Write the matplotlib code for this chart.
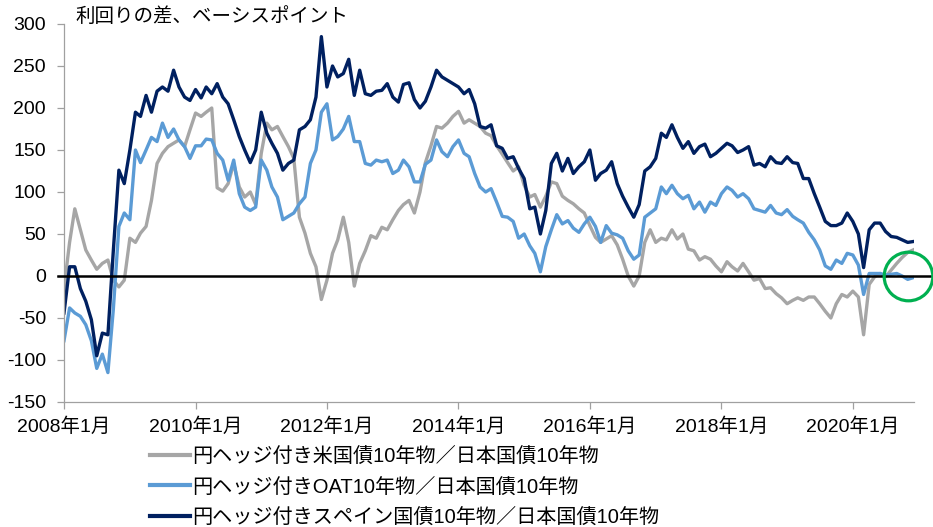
import numpy as np
import pandas as pd
import matplotlib
matplotlib.use("Agg")
import matplotlib.pyplot as plt
import matplotlib.dates as mdates

plt.rcParams['font.family'] = ['Liberation Sans', 'Noto Sans CJK JP', 'DejaVu Sans']

start_month = '2008-01-01'
n_months = 156

us = [
    -15, 40, 80, 55, 31, 19, 8, 15, 19, -5, -13, -5,
    45, 40, 51, 59, 90, 134, 146, 154, 158, 162, 154, 174,
    194, 190, 195, 200, 105, 101, 110, 134, 106, 94, 100, 85,
    146, 182, 174, 178, 166, 154, 140, 70, 51, 27, 11, -28,
    -5, 27, 43, 70, 40, -12, 15, 30, 48, 45, 58, 55,
    67, 78, 85, 90, 75, 100, 135, 155, 178, 176, 182, 190,
    196, 182, 186, 182, 178, 170, 167, 155, 145, 135, 125, 130,
    108, 94, 97, 82, 95, 112, 110, 95, 90, 86, 80, 75,
    60, 46, 40, 44, 48, 37, 20, 0, -12, 0, 40, 55,
    40, 45, 43, 55, 44, 50, 32, 30, 19, 23, 20, 12,
    5, 17, 11, 6, 15, 5, -5, -3, -15, -14, -21, -26,
    -33, -29, -26, -29, -25, -25, -33, -42, -50, -33, -22, -25,
    -18, -25, -70, -10, -1, 3, -1, 7, 15, 22, 28, 31,
]

oat = [
    -77, -38, -44, -48, -58, -77, -110, -93, -115, -40, 59, 75,
    67, 150, 135, 150, 165, 160, 182, 165, 175, 162, 154, 140,
    155, 155, 163, 162, 146, 138, 114, 138, 98, 82, 78, 82,
    138, 126, 106, 94, 67, 71, 75, 86, 94, 134, 150, 195,
    205, 162, 166, 175, 190, 160, 160, 134, 132, 138, 136, 138,
    122, 126, 138, 130, 112, 112, 133, 138, 162, 148, 142, 154,
    162, 146, 142, 122, 106, 100, 104, 88, 71, 70, 65, 45,
    50, 36, 27, 5, 35, 55, 73, 62, 66, 57, 52, 62,
    70, 59, 40, 60, 51, 49, 45, 30, 20, 25, 70, 75,
    80, 106, 98, 108, 98, 92, 96, 80, 88, 76, 88, 84,
    98, 106, 102, 94, 98, 92, 80, 78, 76, 84, 75, 73,
    79, 71, 67, 63, 52, 43, 31, 12, 8, 19, 15, 27,
    25, 13, -22, 3, 3, 3, 1, 2, 3, 0, -4, -2,
]

spain = [
    -44, 11, 11, -15, -30, -52, -95, -68, -70, 30, 126, 110,
    150, 195, 190, 215, 195, 220, 225, 220, 245, 225, 213, 209,
    222, 212, 225, 217, 229, 213, 205, 186, 166, 150, 135, 150,
    195, 170, 158, 146, 126, 134, 138, 174, 178, 186, 213, 285,
    225, 250, 237, 241, 258, 215, 245, 217, 215, 220, 221, 229,
    213, 207, 228, 230, 210, 200, 208, 225, 245, 237, 233, 229,
    225, 217, 222, 205, 178, 176, 180, 155, 152, 140, 142, 128,
    116, 80, 82, 50, 78, 134, 146, 125, 140, 122, 130, 136,
    150, 114, 122, 126, 136, 110, 95, 82, 70, 85, 125, 130,
    140, 170, 165, 180, 165, 152, 160, 146, 154, 157, 142, 146,
    152, 158, 155, 147, 150, 154, 132, 134, 130, 142, 135, 134,
    142, 135, 134, 116, 116, 98, 82, 65, 60, 60, 63, 75,
    65, 50, 10, 55, 63, 63, 53, 47, 46, 43, 40, 41,
]

labels = [
    '円ヘッジ付き米国債10年物／日本国債10年物',
    '円ヘッジ付きOAT10年物／日本国債10年物',
    '円ヘッジ付きスペイン国債10年物／日本国債10年物',
]
colors = ['#A6A6A6', '#5B9BD5', '#002060']
tick_years = [2008, 2010, 2012, 2014, 2016, 2018, 2020]
y_ticks = [-150, -100, -50, 0, 50, 100, 150, 200, 250, 300]
y_title = '利回りの差、ベーシスポイント'

dates = pd.date_range(start_month, periods=n_months, freq='MS')

W, H = 933, 527
FS = 14
LFS = 14.5
fig = plt.figure(figsize=(W / 100, H / 100), dpi=100)
ax = fig.add_axes([64 / W, 1 - 402 / H, (914 - 64) / W, (402 - 24) / H])

for vals, c, lab in zip([us, oat, spain], colors, labels):
    ax.plot(dates, vals, color=c, lw=2.4, label=lab, solid_joinstyle='round')

ax.set_ylim(-150, 300)
ax.set_xlim(pd.Timestamp('2008-01-01'), pd.Timestamp('2020-12-06'))
ax.set_yticks(y_ticks)
ax.set_yticklabels([str(v) for v in y_ticks], fontsize=FS)
ax.set_xticks([pd.Timestamp(f'{y}-01-01') for y in tick_years])
ax.set_xticklabels([f'{y}年1月' for y in tick_years], fontsize=FS)

for s in ['top', 'right']:
    ax.spines[s].set_visible(False)
for s in ['left', 'bottom']:
    ax.spines[s].set_color('#A0A0A0')
    ax.spines[s].set_linewidth(0.9)
ax.tick_params(axis='both', colors='#A0A0A0', labelcolor='black', length=5, width=0.9)
ax.tick_params(axis='x', pad=6)
ax.tick_params(axis='y', pad=8)

# zero line
ax.axhline(0, xmin=-0.007, xmax=1.022, color='black', lw=1.8, clip_on=False, zorder=5)

# highlight circle at the latest data
ax.plot([dates[154]], [0], marker='o', ms=35, mfc='none', mec='#00B050', mew=2.3,
        clip_on=False, zorder=6)

fig.text(75 / W, 1 - 17 / H, y_title, fontsize=FS, va='center', ha='left')

leg = fig.legend(loc='upper left', bbox_to_anchor=(150 / W, 1 - 447 / H), frameon=False,
                 fontsize=LFS, handlelength=2.0, handletextpad=0.08, labelspacing=0.55,
                 borderpad=0, borderaxespad=0)
for line in leg.get_lines():
    line.set_linewidth(3)

fig.savefig('out.png', dpi=100)
